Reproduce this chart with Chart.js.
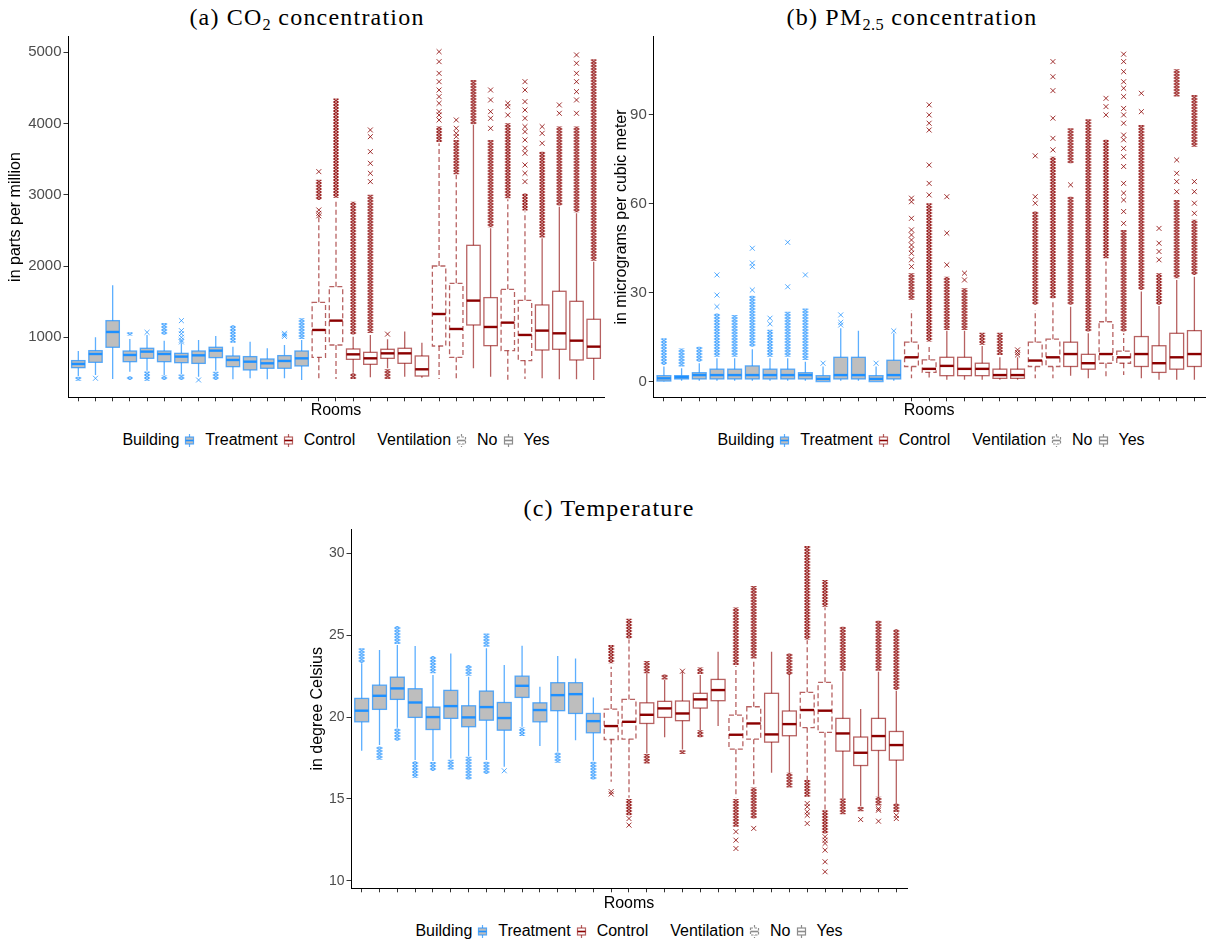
<!DOCTYPE html>
<html>
<head>
<meta charset="utf-8">
<title>Indoor air quality by room</title>
<script src="https://cdn.jsdelivr.net/npm/chart.js@4.4.0/dist/chart.umd.min.js"></script>
<style>
  html, body { margin: 0; padding: 0; background: #fff; }
  body { width: 1210px; height: 944px; position: relative; overflow: hidden;
         font-family: "Liberation Sans", Arial, sans-serif; }
  canvas { position: absolute; }
  .title { position: absolute; width: 500px; text-align: center; color: #000;
           font-family: "Liberation Serif", serif; font-size: 24px; line-height: 28px; letter-spacing: 1.2px; }
  .title sub { font-size: 68%; vertical-align: -0.28em; line-height: 0; letter-spacing: 0.4px; }
  .legend { position: absolute; width: 700px; height: 20px; display: flex; justify-content: center;
            align-items: center; font-size: 16px; line-height: 20px; color: #000; white-space: nowrap; }
  .legend svg { display: block; margin: 0 7px 0 2px; }
  .legend .gap { width: 22px; }
</style>
</head>
<body>

<div class="title" style="left:57px;top:3px">(a) CO<sub>2</sub> concentration</div>
<div class="title" style="left:662px;top:3px">(b) PM<sub>2.5</sub> concentration</div>
<div class="title" style="left:359px;top:494px">(c) Temperature</div>

<canvas id="co2" width="610" height="425" style="left:0;top:0"></canvas>
<canvas id="pm" width="600" height="425" style="left:610px;top:0"></canvas>
<canvas id="temp" width="615" height="425" style="left:300px;top:490px"></canvas>

<div class="legend" id="legA" style="left:-14px;top:430px"></div>
<div class="legend" id="legB" style="left:581px;top:430px"></div>
<div class="legend" id="legC" style="left:279px;top:921px"></div>

<script>
// ---- rooms and their grouping ----
const rooms = [1,2,3,4,5,6,7,8,9,10,11,12,13,14,15,16,17,18,19,20,21,22,23,24,25,26,27,28,29,30,31];
const building = ['Treatment','Treatment','Treatment','Treatment','Treatment','Treatment','Treatment',
                  'Treatment','Treatment','Treatment','Treatment','Treatment','Treatment','Treatment',
                  'Control','Control','Control','Control','Control','Control','Control','Control','Control',
                  'Control','Control','Control','Control','Control','Control','Control','Control'];
const ventilation = ['Yes','Yes','Yes','Yes','Yes','Yes','Yes','Yes','Yes','Yes','Yes','Yes','Yes','Yes',
                     'No','No','Yes','Yes','Yes','Yes','Yes','No','No','Yes','Yes','No','No','Yes','Yes','Yes','Yes'];

// ---- y-axis tick values ----
const co2Ticks = [1000, 2000, 3000, 4000, 5000];
const pmTicks = [0, 30, 60, 90];
const tempTicks = [10, 15, 20, 25, 30];

// ---- (a) CO2, parts per million ----
const co2Q1 = [574,649,860,658,705,658,644,634,715,588,542,565,565,598,
               719,892,691,621,705,635,457,878,719,1173,883,813,673,822,832,682,705];
const co2Median = [626,766,1075,752,799,766,729,747,813,682,658,635,668,705,
                   1103,1234,761,705,775,775,551,1327,1117,1515,1145,1206,1033,1094,1056,953,869];
const co2Q3 = [673,813,1234,808,846,808,775,808,860,738,729,696,743,808,
               1491,1711,836,789,832,846,738,2001,1758,2291,1557,1674,1519,1454,1646,1505,1253];
const co2Low = [457,471,415,518,532,471,485,448,532,410,425,410,425,401,
                415,415,504,439,565,448,434,415,415,565,448,401,415,425,410,410,401];
const co2High = [808,1000,1730,975,1033,953,916,963,1019,869,939,846,892,963,
                 2694,2927,1009,1033,972,1080,925,3723,3278,3980,2530,2937,2764,2389,2834,2740,2062];
const co2Outliers = [[],[425],[],[],[1070],[],[1234,1094,1050,1000,960,935],[401],[],[],[],[],[1056,1035,1012],[],
  [3325,2787,2740,2705],[],[],[3910,3816,3606,3442,3302,3185],[1045],[],[],
  [5009,4869,4705,4588,4471,4378,4284,4167,4120,4050],[4050,3933,3863,3816],[],[4471,4331,4167,4074,3933],
  [4284,4237,4120],[4588,4471,4308,4190,4074,3957,3886,3770,3653,3583,3419,3302,3185],[3957,3863,3723],
  [4261,4144],[4963,4846,4705,4588,4448,4331,4144],[]];
// runs of outliers too dense to separate
const co2OutlierRuns = [[[390,448]],[],[],[[1025,1070],[400,455]],[[392,520]],[[1035,1200],[400,465]],[[400,478]],[],
  [[400,518]],[[925,1170]],[],[],[],[[975,1267]],
  [[2927,3210]],[[2960,4350]],[[1040,2904],[415,495]],[[1060,3000]],[[415,551]],[],[],
  [[3740,3960]],[[3290,3770]],[[3990,4612]],[[2545,3770]],[[2950,4003]],[[2780,3020]],[[2400,3606]],
  [[2850,3957]],[[2755,3957]],[[2075,4902]]];

// ---- (b) PM2.5, micrograms per cubic meter ----
const pmQ1 = [0.2,0.9,0.9,0.9,0.9,0.9,0.9,0.9,0.9,0,0.9,0.9,0,0.9,
              5.1,3.1,2.0,2.0,2.0,1.1,1.1,5.1,5.1,5.1,4.2,6.2,6.2,5.1,3.1,4.2,5.1];
const pmMedian = [1.1,1.5,2.2,2.2,2.2,2.2,2.2,2.2,2.2,0.9,2.2,2.2,0.9,2.2,
                  8.2,4.3,5.3,4.3,4.3,2.2,2.2,7.1,8.2,9.3,6.2,9.3,8.2,9.3,6.2,8.2,9.3];
const pmQ3 = [2.0,2.0,3.0,4.2,4.2,5.3,4.2,4.2,3.0,2.0,8.2,8.2,2.0,7.2,
              13.3,7.3,8.2,8.2,6.2,4.2,4.2,13.3,14.3,13.3,9.2,20.2,10.3,15.2,12.1,16.3,17.2];
const pmLow = [0,0.3,0.3,0.3,0.3,0.3,0.3,0.3,0.3,0,0.3,0.3,0,0.3,
               1.1,1.1,0.6,0.6,0.6,0.6,0.6,1.1,1.1,2.0,1.1,1.1,2.2,1.1,0.6,0.6,0.6];
const pmHigh = [5.1,4.5,6.2,7.9,7.9,10.9,7.9,7.9,6.7,5.1,18.0,17.2,5.1,16.3,
                24.2,11.8,17.2,17.2,12.0,8.2,8.2,24.2,27.6,25.3,16.3,40.5,16.3,30.4,25.5,34.3,35.4];
const pmOutliers = [[],[],[],[36.0,29.2,25.3],[],[45.0,40.0,38.8,30.9],[21.4,19.5],[47.0,32.0],[36.0],[6.2],
  [22.5,20.0,19.1],[],[6.2],[17.1],
  [61.9,60.7,55.1,51.2,49.5,47.8,46.1,44.7,43.3,41.1,38.8],[93.4,90.0,87.2,84.9,73.1,66.9,63.0],[62.4,50.1,39.4],
  [36.6,34.3],[],[],[10.7,9.8,9.0],[76.2,62.4,60.2],[108.0,102.9,98.2,88.9,82.1,78.2],[66.4],[],[95.6,92.8,90.0],
  [110.5,108.0,104.6,101.2,99.0,96.2,92.2,90.0,87.2,83.2,81.6,78.7,75.9,72.6,66.9,63.6,61.3,57.4,53.4],
  [97.3,91.1],[51.7,46.7,43.9,41.1],[74.8,70.3,67.5,64.1],[67.5,64.1,60.2,56.8]];
const pmOutlierRuns = [[[5.6,14.6]],[[5.1,11.2]],[[6.7,11.8]],[[8.4,23.0]],[[8.4,22.5]],[[11.8,29.0]],[[8.4,17.5]],
  [[8.4,23.6]],[[7.3,24.7]],[],[],[],[],[],
  [[27.6,36.6]],[[13.5,60.2]],[[17.4,35.4]],[[17.4,31.5]],[[12.4,16.5]],[[9.0,16.5]],[],
  [[25.9,57.4]],[[28.1,75.9]],[[73.7,85.5],[25.9,62.4]],[[16.9,88.5]],[[41.6,81.6]],[[16.9,51.2]],[[30.9,86.6]],
  [[25.9,36.6]],[[96.2,105.4],[34.9,61.3]],[[79.3,96.7],[36.0,54.6]]];

// ---- (c) temperature, degree Celsius ----
const tempQ1 = [19.71,20.47,21.08,19.98,19.24,19.92,19.41,19.81,19.2,21.2,19.71,20.39,20.22,19.04,
                18.63,18.65,19.61,19.98,19.78,20.55,21.0,18.04,18.65,18.47,18.86,19.35,19.06,17.92,17.04,17.96,17.37];
const tempMedian = [20.39,21.30,21.75,20.89,20.0,20.67,19.98,20.61,19.94,21.91,20.43,21.34,21.4,19.75,
                    19.45,19.71,20.14,20.53,20.22,21.08,21.65,18.92,19.61,18.94,19.57,20.43,20.39,19.0,17.82,18.84,18.29];
const tempQ3 = [21.14,21.95,22.44,21.73,20.61,21.63,20.69,21.59,20.89,22.5,20.87,22.1,22.1,20.22,
                20.49,21.08,20.87,20.96,20.98,21.45,22.3,20.12,20.63,21.45,20.37,21.51,22.12,19.92,18.78,19.92,19.12];
const tempLow = [17.94,18.29,19.35,17.37,17.31,17.47,17.61,17.37,16.96,19.41,18.23,17.88,18.59,17.33,
                 16.05,15.07,17.78,18.76,18.02,19.2,19.45,15.09,15.74,16.6,16.6,16.15,14.31,15.03,14.56,15.13,14.72];
const tempHigh = [23.28,24.1,24.4,24.34,22.57,23.89,22.46,24.2,23.18,24.36,21.85,23.73,23.58,21.2,
                  23.07,24.74,22.67,22.26,22.77,22.57,23.99,23.12,23.52,23.99,22.57,24.7,26.7,22.77,20.49,22.77,21.61];
const tempOutliers = [[],[],[],[],[],[],[],[],[16.72],[],[],[],[],[],
  [15.45,15.3],[13.8,13.4],[],[],[22.8],[],[],[13.0,12.48,11.97],[13.2],[],[],[14.72,14.52,14.21,14.0,13.5],
  [12.69,12.48,12.28,11.87,11.16,10.55],[],[13.74],[14.4,14.31,13.64],[14.0,13.8]];
const tempOutlierRuns = [[[23.3,24.2]],[[17.4,18.2]],[[24.46,25.56],[18.55,19.3]],[[16.29,17.3]],
  [[22.67,23.73],[16.7,17.25]],[[16.8,17.4]],[[22.52,23.18],[16.19,17.57]],[[24.3,25.1],[16.52,17.27]],[],
  [[18.84,19.37]],[],[[17.21,17.84]],[],[[16.19,17.27]],
  [[23.28,24.4]],[[24.8,26.0],[14.0,15.0]],[[22.67,23.42],[17.17,17.74]],[[22.3,22.6]],[[17.74,17.98]],
  [[22.63,23.03],[18.76,19.2]],[],[[23.18,26.7],[13.3,15.0]],[[23.58,28.0],[13.8,15.7]],[],
  [[22.57,23.89],[15.7,16.6]],[[24.74,30.45],[15.13,16.15]],[[26.74,28.37],[12.89,14.31]],
  [[22.83,25.52],[14.07,15.03]],[[14.25,14.52]],[[22.83,25.89],[14.6,15.13]],[[21.65,25.36],[14.2,14.72]]];

// ---- styling ----
const COLORS = {
  boxFillTreatment: '#bebebe',
  boxFillControl: 'rgba(255,255,255,0)',
  blueLine: 'rgba(30,144,255,0.72)',
  blueMedian: '#1e90ff',
  blueCross: 'rgba(30,144,255,0.75)',
  blueRun: 'rgba(30,144,255,0.85)',
  redLine: 'rgba(139,0,0,0.62)',
  redMedian: '#8b0000',
  redCross: 'rgba(139,0,0,0.8)',
  redRun: 'rgba(139,0,0,0.92)',
  tick: '#4d4d4d'
};
const BOX_RATIO = 0.78;
const RUN_RATIO = 0.35;
const FONT = '"Liberation Sans", Arial, sans-serif';

// tile of one small "x" marker, repeated to fill a dense run of outliers
const tileCache = {};
function crossTile(color) {
  if (tileCache[color]) return tileCache[color];
  const c = document.createElement('canvas');
  c.width = 6; c.height = 3;
  const g = c.getContext('2d');
  g.strokeStyle = color; g.lineWidth = 1.25;
  g.beginPath();
  g.moveTo(0.5, 0); g.lineTo(5.5, 3);
  g.moveTo(5.5, 0); g.lineTo(0.5, 3);
  g.stroke();
  tileCache[color] = c;
  return c;
}
function runFill(context) {
  const raw = context.raw;
  if (!raw) return 'rgba(0,0,0,0)';
  const chart = context.chart;
  const xs = chart.scales.x;
  const unit = xs.getPixelForValue(2) - xs.getPixelForValue(1);
  const left = xs.getPixelForValue(raw.x) - unit * RUN_RATIO / 2;
  const pat = chart.ctx.createPattern(crossTile(raw.treatment ? COLORS.blueRun : COLORS.redRun), 'repeat');
  pat.setTransform(new DOMMatrix([1, 0, 0, 1, left, 0]));
  return pat;
}

// whiskers, box outlines and medians, positioned from the box bars and the y scale
const boxWhiskers = {
  id: 'boxWhiskers',
  afterDatasetsDraw(chart, args, opts) {
    const s = opts.stats;
    if (!s) return;
    const ys = chart.scales.y;
    const meta = chart.getDatasetMeta(opts.boxDataset);
    const ctx = chart.ctx;
    ctx.save();
    meta.data.forEach((bar, i) => {
      const treat = building[i] === 'Treatment';
      const dashed = ventilation[i] === 'No';
      const x = bar.x, half = bar.width / 2;
      const yq1 = ys.getPixelForValue(s.q1[i]);
      const yq3 = ys.getPixelForValue(s.q3[i]);
      const ylo = ys.getPixelForValue(s.low[i]);
      const yhi = ys.getPixelForValue(s.high[i]);
      const ymed = ys.getPixelForValue(s.median[i]);
      ctx.strokeStyle = treat ? COLORS.blueLine : COLORS.redLine;
      ctx.lineWidth = 1.3;
      ctx.setLineDash(dashed ? [5, 3] : []);
      ctx.beginPath();
      ctx.moveTo(x, yq3); ctx.lineTo(x, yhi);
      ctx.moveTo(x, yq1); ctx.lineTo(x, ylo);
      ctx.stroke();
      ctx.strokeRect(x - half, yq3, 2 * half, yq1 - yq3);
      ctx.setLineDash([]);
      ctx.strokeStyle = treat ? COLORS.blueMedian : COLORS.redMedian;
      ctx.lineWidth = 2.4;
      ctx.beginPath();
      ctx.moveTo(x - half, ymed); ctx.lineTo(x + half, ymed);
      ctx.stroke();
    });
    ctx.restore();
  }
};

function makePanel(id, p) {
  const boxData = rooms.map((r, i) => ({ x: r, y: [p.q1[i], p.q3[i]] }));
  const runData = [];
  rooms.forEach((r, i) => p.runs[i].forEach(run =>
    runData.push({ x: r, y: [run[0], run[1]], treatment: building[i] === 'Treatment' })));
  const blueOut = [], redOut = [];
  rooms.forEach((r, i) => p.outliers[i].forEach(v =>
    (building[i] === 'Treatment' ? blueOut : redOut).push({ x: r, y: v })));

  return new Chart(document.getElementById(id), {
    type: 'bar',
    data: {
      datasets: [
        { type: 'scatter', data: redOut, pointStyle: 'crossRot', radius: 3.5, borderWidth: 1,
          borderColor: COLORS.redCross, backgroundColor: COLORS.redCross },
        { type: 'scatter', data: blueOut, pointStyle: 'crossRot', radius: 3.5, borderWidth: 1,
          borderColor: COLORS.blueCross, backgroundColor: COLORS.blueCross },
        { data: runData, grouped: false, categoryPercentage: 1, barPercentage: RUN_RATIO,
          borderWidth: 0, backgroundColor: runFill },
        { data: boxData, grouped: false, categoryPercentage: 1, barPercentage: BOX_RATIO, borderWidth: 0,
          backgroundColor: rooms.map((r, i) => building[i] === 'Treatment' ? COLORS.boxFillTreatment : COLORS.boxFillControl) }
      ]
    },
    options: {
      responsive: false,
      animation: false,
      devicePixelRatio: 1,
      events: [],
      layout: { padding: { left: 0, top: p.padTop, right: p.padRight, bottom: 0 } },
      plugins: {
        legend: { display: false },
        tooltip: { enabled: false },
        boxWhiskers: { boxDataset: 3,
          stats: { q1: p.q1, median: p.median, q3: p.q3, low: p.low, high: p.high } }
      },
      scales: {
        x: {
          type: 'linear', min: 0.4, max: 31.6, offset: false,
          grid: { display: true, drawOnChartArea: false, drawTicks: true, tickLength: 4,
                  tickColor: '#333', tickWidth: 1, offset: false },
          border: { display: true, color: '#000', width: 1 },
          ticks: { display: false, autoSkip: false },
          title: { display: true, text: 'Rooms', color: '#000',
                   font: { family: FONT, size: 16 }, padding: { top: 0, bottom: p.xTitlePad } },
          afterBuildTicks: s => { s.ticks = rooms.map(v => ({ value: v })); },
          afterFit: s => { s.height = p.xHeight; }
        },
        y: {
          type: 'linear', min: p.yMin, max: p.yMax,
          grid: { display: true, drawOnChartArea: false, drawTicks: true, tickLength: 4.5,
                  tickColor: '#333', tickWidth: 1 },
          border: { display: true, color: '#000', width: 1 },
          ticks: { color: COLORS.tick, font: { family: FONT, size: p.tickSize }, padding: 2,
                   callback: v => String(v) },
          title: { display: true, text: p.yTitle, color: '#000',
                   font: { family: FONT, size: 16 }, padding: { top: p.yTitlePad, bottom: 0 } },
          afterBuildTicks: s => { s.ticks = p.ticks.map(v => ({ value: v })); },
          afterFit: s => { s.width = p.yWidth; }
        }
      }
    },
    plugins: [boxWhiskers]
  });
}

makePanel('co2', {
  q1: co2Q1, median: co2Median, q3: co2Q3, low: co2Low, high: co2High,
  outliers: co2Outliers, runs: co2OutlierRuns, ticks: co2Ticks,
  yMin: 158, yMax: 5219, yTitle: 'in parts per million',
  yWidth: 68, padTop: 36.7, padRight: 6, xHeight: 27.7, yTitlePad: 6.4, xTitlePad: 4.5, tickSize: 15
});
makePanel('pm', {
  q1: pmQ1, median: pmMedian, q3: pmQ3, low: pmLow, high: pmHigh,
  outliers: pmOutliers, runs: pmOutlierRuns, ticks: pmTicks,
  yMin: -5.3, yMax: 116.4, yTitle: 'in micrograms per cubic meter',
  yWidth: 43.3, padTop: 36.7, padRight: 1, xHeight: 27.7, yTitlePad: 1.9, xTitlePad: 4.5, tickSize: 15
});
makePanel('temp', {
  q1: tempQ1, median: tempMedian, q3: tempQ3, low: tempLow, high: tempHigh,
  outliers: tempOutliers, runs: tempOutlierRuns, ticks: tempTicks,
  yMin: 9.54, yMax: 31.47, yTitle: 'in degree Celsius',
  yWidth: 51, padTop: 39.3, padRight: 8, xHeight: 26.7, yTitlePad: 7.9, xTitlePad: 1.6, tickSize: 14
});

// ---- legends: Building and Ventilation keys ----
function keyGlyph(stroke, fill, median, dashed) {
  const dash = dashed ? ' stroke-dasharray="2.5,1.5"' : '';
  return '<svg width="17" height="17" viewBox="0 0 17 17">' +
    '<line x1="8.5" y1="2" x2="8.5" y2="15" stroke="' + stroke + '" stroke-width="1.2"' + dash + '/>' +
    '<rect x="4.5" y="5" width="8" height="7" fill="' + fill + '" stroke="' + stroke + '" stroke-width="1.2"' + dash + '/>' +
    '<line x1="4.5" y1="8.5" x2="12.5" y2="8.5" stroke="' + median + '" stroke-width="1.6"/>' +
    '</svg>';
}
const legendHtml =
  '<span>Building</span>' + keyGlyph(COLORS.blueLine, COLORS.boxFillTreatment, COLORS.blueMedian, false) +
  '<span>Treatment</span>' + keyGlyph(COLORS.redLine, '#fff', COLORS.redMedian, false) +
  '<span>Control</span><span class="gap"></span>' +
  '<span>Ventilation</span>' + keyGlyph('#8c8c8c', '#fff', '#8c8c8c', true) +
  '<span>No</span>' + keyGlyph('#8c8c8c', '#fff', '#8c8c8c', false) +
  '<span>Yes</span>';
['legA', 'legB', 'legC'].forEach(id => { document.getElementById(id).innerHTML = legendHtml; });
</script>
</body>
</html>
